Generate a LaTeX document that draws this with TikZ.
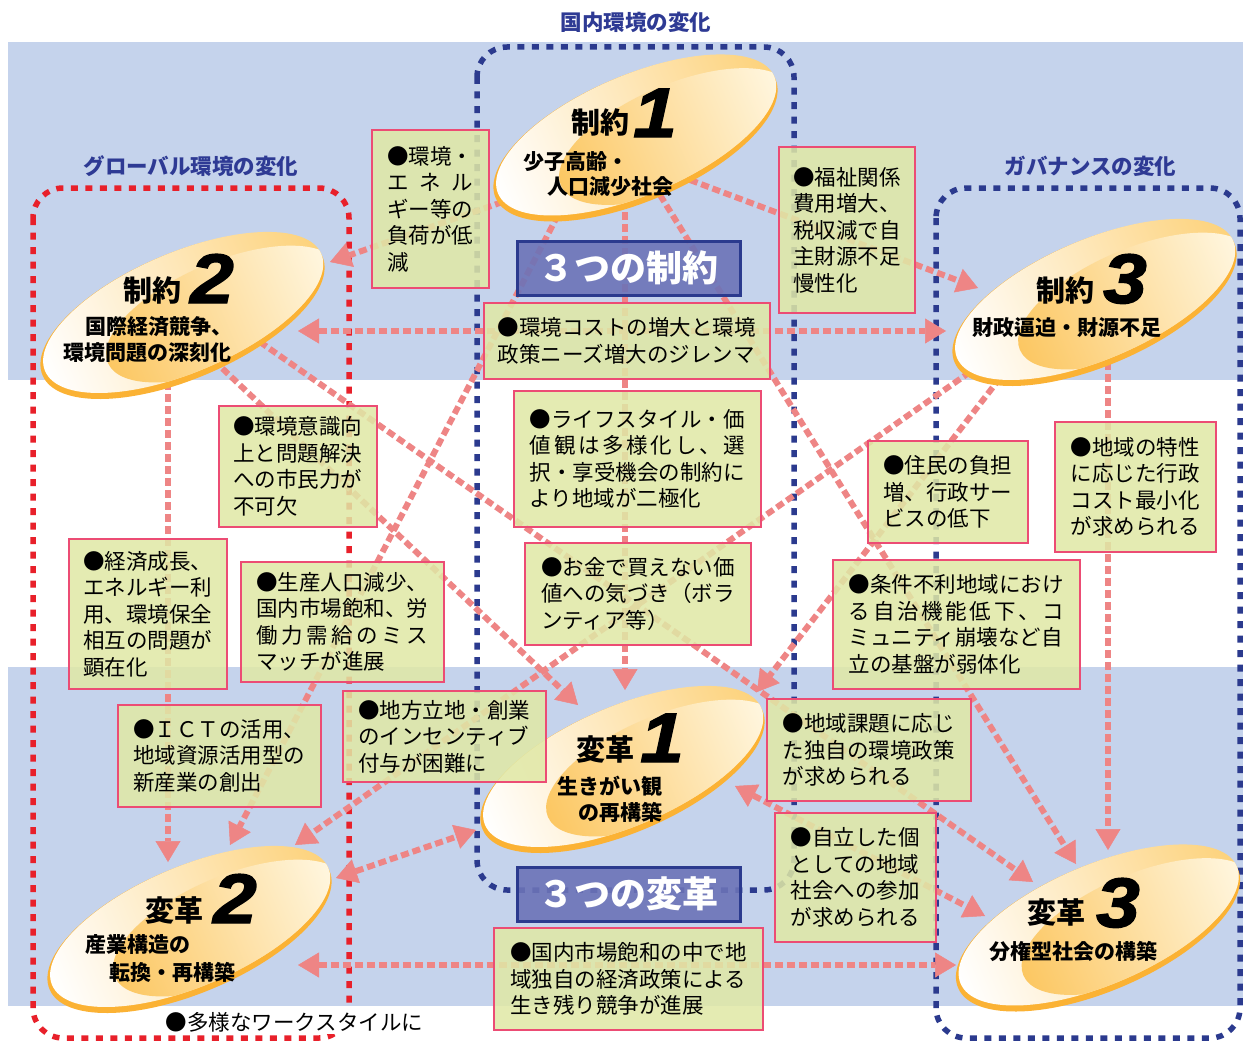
\documentclass[tikz,border=0pt]{standalone}
\usepackage{fontspec}
\setmainfont{Noto Sans CJK JP}
\newfontface\numfont{Liberation Sans Bold Italic}[FakeBold=2,FakeStretch=1.12]
\usetikzlibrary{arrows.meta}
\definecolor{bandc}{HTML}{C5D3EC}
\definecolor{navyc}{HTML}{2B3A8E}
\definecolor{redc}{HTML}{E8202A}
\definecolor{pinkc}{HTML}{EE8585}
\definecolor{greenc}{HTML}{E0E8A6}
\definecolor{boxline}{HTML}{EC4C74}
\definecolor{titlec}{HTML}{2E3A94}
\definecolor{labelc}{HTML}{6C73B7}
\definecolor{goldc}{HTML}{FDD27B}
\definecolor{goldd}{HTML}{FCC762}
\definecolor{rimc}{HTML}{FBB234}
\definecolor{creamc}{HTML}{FFF8E4}
\def\spr#1{\sprA#1\sprEnd}
\def\sprEnd{}
\def\sprA#1#2{#1\ifx#2\sprEnd\else\hfill\expandafter\sprA\expandafter#2\fi}
\newcommand\bxfont{\fontsize{21.5}{26.5}\selectfont}
\newcommand\ttlf{\fontsize{29}{29}\selectfont\bfseries}
\newcommand\subf{\fontsize{21}{26}\selectfont\bfseries}
\newcommand\digf{\fontsize{70}{70}\selectfont\numfont}
\newcommand\lblf{\fontsize{36}{36}\selectfont\bfseries}
\newcommand\hdf{\fontsize{21.5}{26}\selectfont\bfseries}
\tikzset{
  framedot/.style={line width=5.5pt, dash pattern=on 7pt off 7.5pt, rounded corners=30pt},
  pkline/.style={draw=pinkc, line width=6pt, dash pattern=on 8pt off 4pt},
  pkarr/.style={pkline, -{Triangle[length=21pt,width=25pt,line width=0.5pt]}},
  pkdbl/.style={pkline, {Triangle[length=21pt,width=25pt,line width=0.5pt]}-{Triangle[length=21pt,width=25pt,line width=0.5pt]}},
  gboxst/.style={draw=boxline, line width=1.8pt, fill=greenc, fill opacity=0.86, text opacity=1, inner sep=0pt},
  lblbox/.style={draw=navyc, line width=2.5pt, fill=labelc, fill opacity=0.9, text opacity=1, text=white, font=\lblf, inner sep=0pt},
  eltxt/.style={inner sep=0pt, text=black},
  headtxt/.style={inner sep=0pt, text=titlec, font=\hdf}
}
\newcommand\gbox[7]{\node[gboxst,minimum width=#4pt,minimum height=#5pt,anchor=north west] (#1) at (#2,#3) {\parbox{#6}{\bxfont #7}};}
\newcommand\goldell[3]{%
  \coordinate (#1) at (#2,#3);
  \begin{scope}[transform canvas={shift={(#2,#3)},rotate=23}]
    \fill[rimc] (0,0) ellipse [x radius=152pt,y radius=63pt];
    \shade[left color=white,right color=goldc] (2,-3) ellipse [x radius=150pt,y radius=60pt];
    \begin{scope}
      \clip (2,-3) ellipse [x radius=150pt,y radius=60pt];
      \shade[left color=goldd,right color=creamc] (38,14) ellipse [x radius=125pt,y radius=52pt];
    \end{scope}
  \end{scope}}
\begin{document}
\begin{tikzpicture}[x=1pt,y=-1pt]
\useasboundingbox (0,0) rectangle (1243,1041);
\fill[white] (0,0) rectangle (1243,1041);
\fill[bandc] (8,42) rectangle (1243,380);
\fill[bandc] (8,667) rectangle (1243,1006);
% dotted frames
\draw[framedot, draw=navyc] (477,47) rectangle (794,890);
\draw[framedot, draw=redc] (33,188) rectangle (349,1038);
\draw[framedot, draw=navyc] (936,188) rectangle (1240,1038);
% connector end points
\coordinate (a1) at (514,198); \coordinate (t1) at (330,262);
\coordinate (a2) at (690,180); \coordinate (t2) at (978,288);
\coordinate (a3) at (625,200); \coordinate (t3) at (625,690);
\coordinate (a4) at (558,215); \coordinate (t4) at (230,845);
\coordinate (a5) at (660,195); \coordinate (t5) at (1076,864);
\coordinate (a6) at (205,352); \coordinate (t6) at (578,705);
\coordinate (a7) at (250,335); \coordinate (t7) at (1033,882);
\coordinate (a8) at (168,370); \coordinate (t8) at (168,862);
\coordinate (a9) at (1000,378); \coordinate (t9) at (757,692);
\coordinate (a10) at (970,372); \coordinate (t10) at (295,845);
\coordinate (a11) at (1108,350); \coordinate (t11) at (1108,850);
\coordinate (u1) at (298,331); \coordinate (u2) at (946,331);
\coordinate (w1) at (298,965); \coordinate (w2) at (956,965);
\coordinate (x1) at (336,878); \coordinate (x2) at (476,830);
\coordinate (y1) at (735,786); \coordinate (y2) at (985,916);
% connectors
\draw[pkarr] (a1) -- (t1);
\draw[pkarr] (a2) -- (t2);
\draw[pkarr] (a3) -- (t3);
\draw[pkarr] (a4) -- (t4);
\draw[pkarr] (a5) -- (t5);
\draw[pkarr] (a6) -- (t6);
\draw[pkarr] (a7) -- (t7);
\draw[pkarr] (a8) -- (t8);
\draw[pkarr] (a9) -- (t9);
\draw[pkarr] (a10) -- (t10);
\draw[pkarr] (a11) -- (t11);
\draw[pkdbl] (u1) -- (u2);
\draw[pkdbl] (w1) -- (w2);
\draw[pkdbl] (x1) -- (x2);
\draw[pkdbl] (y1) -- (y2);
% ellipses
\goldell{S1}{635.5}{138.5}
\goldell{S2}{182.5}{316}
\goldell{S3}{1094.5}{303}
\goldell{V1}{622.5}{770}
\goldell{V2}{189.5}{930}
\goldell{V3}{1098}{928.5}
% ellipse texts
\node[eltxt,font=\ttlf] (s1t) at (600,122.5) {制約};
\node[eltxt,font=\digf,anchor=base] (s1n) at (655,137) {1};
\node[eltxt,font=\subf,anchor=west] (s1a) at (523,162) {少子高齢・};
\node[eltxt,font=\subf,anchor=west] (s1b) at (547,187) {人口減少社会};
\node[eltxt,font=\ttlf] (s2t) at (152,290) {制約};
\node[eltxt,font=\digf,anchor=base] (s2n) at (212,303) {2};
\node[eltxt,font=\subf,anchor=west] (s2a) at (85,327) {国際経済競争、};
\node[eltxt,font=\subf,anchor=west] (s2b) at (63,353) {環境問題の深刻化};
\node[eltxt,font=\ttlf] (s3t) at (1065.5,290) {制約};
\node[eltxt,font=\digf,anchor=base] (s3n) at (1125,303) {3};
\node[eltxt,font=\subf,anchor=west] (s3a) at (972,328) {財政逼迫・財源不足};
\node[eltxt,font=\ttlf] (v1t) at (605,749.5) {変革};
\node[eltxt,font=\digf,anchor=base] (v1n) at (662,762) {1};
\node[eltxt,font=\subf,anchor=west] (v1a) at (557,786) {生きがい観};
\node[eltxt,font=\subf,anchor=west] (v1b) at (578,812) {の再構築};
\node[eltxt,font=\ttlf] (v2t) at (174,910) {変革};
\node[eltxt,font=\digf,anchor=base] (v2n) at (235,923) {2};
\node[eltxt,font=\subf,anchor=west] (v2a) at (85,945) {産業構造の};
\node[eltxt,font=\subf,anchor=west] (v2b) at (109,972) {転換・再構築};
\node[eltxt,font=\ttlf] (v3t) at (1056.5,912.5) {変革};
\node[eltxt,font=\digf,anchor=base] (v3n) at (1118,927) {3};
\node[eltxt,font=\subf,anchor=west] (v3a) at (989,951) {分権型社会の構築};
% text boxes
\gbox{b1}{371}{129}{117}{158}{86pt}{●環境・\\\makebox[\linewidth]{\spr{エネル}}\\ギー等の\\負荷が低\\減}
\gbox{b2}{778}{146}{136}{166}{107.5pt}{●福祉関係\\費用増大、\\税収減で自\\主財源不足\\慢性化}
\gbox{b3}{483}{302}{286}{76}{258pt}{●環境コストの増大と環境\\政策ニーズ増大のジレンマ}
\gbox{b4}{218}{405}{158}{121}{129pt}{●環境意識向\\上と問題解決\\への市民力が\\不可欠}
\gbox{b5}{513}{390}{247}{136}{215pt}{●ライフスタイル・価\\\makebox[\linewidth]{\spr{値観は多様化し、選}}\\択・享受機会の制約に\\より地域が二極化}
\gbox{b6}{867}{440}{160}{102}{129pt}{●住民の負担\\増、行政サー\\ビスの低下}
\gbox{b7}{1054}{421}{161}{130}{129pt}{●地域の特性\\に応じた行政\\コスト最小化\\が求められる}
\gbox{b8}{68}{538}{158}{150}{129pt}{●経済成長、\\エネルギー利\\用、環境保全\\相互の問題が\\顕在化}
\gbox{b9}{240}{561}{203}{120}{172pt}{●生産人口減少、\\国内市場飽和、労\\\makebox[\linewidth]{\spr{働力需給のミス}}\\マッチが進展}
\gbox{b10}{524}{542}{226}{102}{193.5pt}{●お金で買えない価\\値への気づき（ボラ\\ンティア等）}
\gbox{b11}{832}{559}{247}{129}{215pt}{●条件不利地域におけ\\\makebox[\linewidth]{\spr{る自治機能低下、コ}}\\ミュニティ崩壊など自\\立の基盤が弱体化}
\gbox{b12}{117}{704}{203}{102}{172pt}{●ＩＣＴの活用、\\地域資源活用型の\\新産業の創出}
\gbox{b13}{342}{690}{203}{91}{172pt}{●地方立地・創業\\のインセンティブ\\付与が困難に}
\gbox{b14}{766}{698}{204}{102}{172pt}{●地域課題に応じ\\た独自の環境政策\\が求められる}
\gbox{b15}{774}{812}{161}{129}{129pt}{●自立した個\\としての地域\\社会への参加\\が求められる}
\gbox{b16}{493}{927}{269}{102}{236.5pt}{●国内市場飽和の中で地\\域独自の経済政策による\\生き残り競争が進展}
% labels
\node[lblbox,anchor=north west,minimum width=223pt,minimum height=54pt] (L1) at (516,240) {３つの制約};
\node[lblbox,anchor=north west,minimum width=223pt,minimum height=54pt] (L2) at (516,866) {３つの変革};
% headings
\node[headtxt] (h1) at (636,22) {国内環境の変化};
\node[headtxt] (h2) at (191,166) {グローバル環境の変化};
\node[headtxt] (h3) at (1090.5,166) {ガバナンスの変化};
\node[inner sep=2pt, fill=white, font=\bxfont] (h4) at (294.5,1022) {●多様なワークスタイルに};
\end{tikzpicture}
\end{document}
